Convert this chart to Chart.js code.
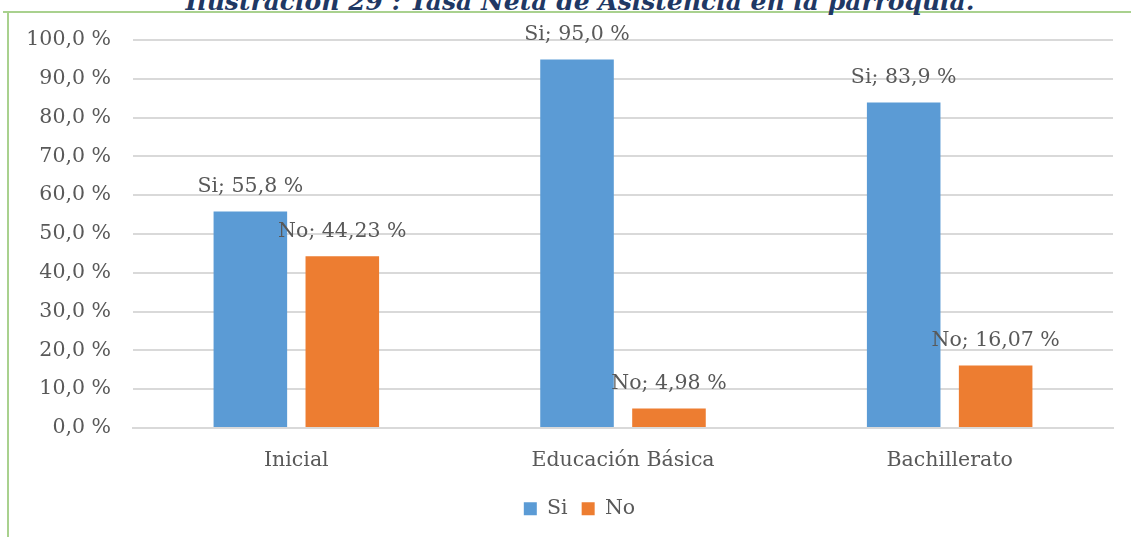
<!DOCTYPE html>
<html>
<head>
	<title>Tasa Neta de Asistencia</title>
	<script src="https://cdn.jsdelivr.net/npm/chart.js@4.4.0/dist/chart.umd.min.js"></script>
	<style>
		body { margin: 0; background: #fff; overflow: hidden; }
		#wrap { position: relative; width: 1131px; height: 537px; overflow: hidden; }
		#lineTop { position: absolute; left: 3px; top: 11px; width: 1128px; height: 2px; background: #a9d18e; }
		#lineLeft { position: absolute; left: 7px; top: 11px; width: 2px; height: 526px; background: #a9d18e; }
		#title {
			position: absolute; left: 0; width: 1160px; top: -13px; text-align: center;
			font: italic bold 25px "DejaVu Serif", serif; color: #1f3864; white-space: nowrap;
		}
		#myChart { position: absolute; left: 0; top: 0; }
	</style>
</head>
<body>
	<div id="wrap">
		<div id="lineTop"></div>
		<div id="lineLeft"></div>
		<div id="title">Ilustración 29 : Tasa Neta de Asistencia en la parroquia.</div>
		<canvas id="myChart" width="1131" height="537"></canvas>
	</div>
	<script>
		const categories = ["Inicial", "Educación Básica", "Bachillerato"];
		const siValues = [55.8, 95.0, 83.9];
		const noValues = [44.23, 4.98, 16.07];
		const siLabels = ["55,8 %", "95,0 %", "83,9 %"];
		const noLabels = ["44,23 %", "4,98 %", "16,07 %"];

		const FONT = "'DejaVu Serif', serif";
		const TEXT_COLOR = "#595959";

		// draws "Si; 55,8 %" style labels above each bar
		const barLabels = {
			id: "barLabels",
			afterDatasetsDraw(chart) {
				const ctx = chart.ctx;
				ctx.save();
				ctx.font = "20.5px " + FONT;
				ctx.fillStyle = TEXT_COLOR;
				ctx.textAlign = "center";
				ctx.textBaseline = "middle";
				chart.data.datasets.forEach((ds, i) => {
					const meta = chart.getDatasetMeta(i);
					meta.data.forEach((bar, j) => {
						ctx.fillText(ds.label + "; " + ds.valueText[j], bar.x, bar.y - 25);
					});
				});
				ctx.restore();
			}
		};

		// nudge the legend a bit to the right, like the original
		const legendShift = {
			id: "legendShift",
			afterLayout(chart) {
				chart.legend.left += 9;
				chart.legend.right += 9;
			}
		};

		new Chart("myChart", {
			type: "bar",
			data: {
				labels: categories,
				datasets: [{
					label: "Si",
					data: siValues,
					valueText: siLabels,
					backgroundColor: "#5b9bd5"
				}, {
					label: "No",
					data: noValues,
					valueText: noLabels,
					backgroundColor: "#ed7d31"
				}]
			},
			options: {
				responsive: false,
				animation: false,
				devicePixelRatio: 1,
				categoryPercentage: 0.563,
				barPercentage: 0.8,
				layout: { padding: { left: 28, right: 18, top: 40, bottom: 8 } },
				plugins: {
					title: { display: false },
					tooltip: { enabled: false },
					legend: {
						position: "bottom",
						labels: {
							boxWidth: 13, boxHeight: 13, padding: 14,
							color: TEXT_COLOR,
							font: { family: FONT, size: 20.5 }
						}
					}
				},
				scales: {
					x: {
						grid: { display: false },
						border: { display: true, color: "#d9d9d9", width: 2 },
						ticks: { color: TEXT_COLOR, font: { family: FONT, size: 20.5 }, padding: 12 }
					},
					y: {
						min: 0, max: 100,
						afterFit: axis => { axis.width = 105; },
						border: { display: false },
						grid: { color: "#d9d9d9", lineWidth: 2, drawTicks: false },
						ticks: {
							stepSize: 10, padding: 22,
							color: TEXT_COLOR, font: { family: FONT, size: 20.5 },
							callback: v => v.toFixed(1).replace(".", ",") + " %"
						}
					}
				}
			},
			plugins: [barLabels, legendShift]
		});
	</script>
</body>
</html>
